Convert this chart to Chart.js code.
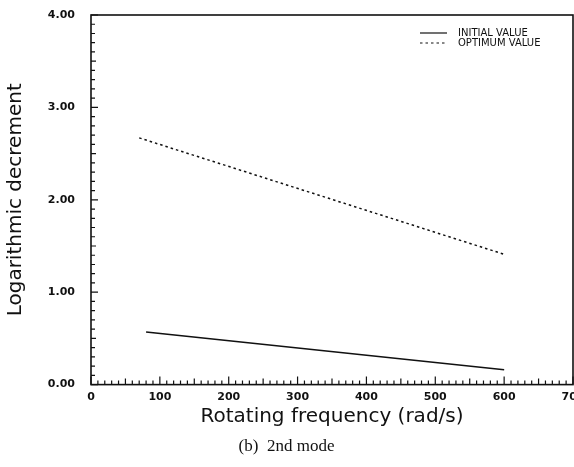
<!DOCTYPE html>
<html><head><meta charset="utf-8">
<script src="https://cdn.jsdelivr.net/npm/chart.js@4"></script>
<style>html,body{margin:0;padding:0;background:#fff}#wrap{width:574px;height:467px}</style>
</head><body><div id="wrap"><canvas id="c" width="574" height="467"></canvas></div>
<script>
const initialX = [80, 600];
const initialY = [0.57, 0.16];
const optimumX = [70, 600];
const optimumY = [2.67, 1.41];
const seriesLabels = ['INITIAL VALUE', 'OPTIMUM VALUE'];
const xTickLabels = [0, 100, 200, 300, 400, 500, 600, 700];
const yTickLabels = ['0.00', '1.00', '2.00', '3.00', '4.00'];

const toPts = (xs, ys) => xs.map((x, i) => ({x: x, y: ys[i]}));

const framePlugin = {
  id: 'frame',
  afterDatasetsDraw(chart) {
    const {ctx, chartArea: a, scales: {x, y}} = chart;
    ctx.save();
    ctx.strokeStyle = '#111';
    ctx.lineWidth = 1.6;
    ctx.strokeRect(a.left, a.top, a.right - a.left, a.bottom - a.top);
    ctx.lineWidth = 1.2;
    ctx.beginPath();
    for (let v = 0; v <= 700; v += 10) {
      const px = x.getPixelForValue(v);
      const len = v % 100 === 0 ? 8 : (v % 50 === 0 ? 6 : 4);
      ctx.moveTo(px, a.bottom); ctx.lineTo(px, a.bottom - len);
    }
    for (let k = 0; k <= 40; k++) {
      const py = y.getPixelForValue(k / 10);
      const len = k % 10 === 0 ? 7 : (k % 5 === 0 ? 5 : 4);
      ctx.moveTo(a.left, py); ctx.lineTo(a.left + len, py);
    }
    ctx.stroke();
    // legend
    const ds = chart.data.datasets;
    ctx.font = '10px "DejaVu Sans", sans-serif';
    ctx.fillStyle = '#111';
    ctx.textBaseline = 'middle';
    ds.forEach((d, i) => {
      const ly = 33 + i * 10;
      ctx.lineWidth = 1.2;
      ctx.setLineDash(d.borderDash || []);
      ctx.beginPath(); ctx.moveTo(420, ly); ctx.lineTo(447, ly); ctx.stroke();
      ctx.setLineDash([]);
      ctx.fillText(d.label, 458, ly);
    });
    ctx.restore();
  }
};

new Chart(document.getElementById('c'), {
  type: 'scatter',
  data: {
    datasets: [
      {label: seriesLabels[0], data: toPts(initialX, initialY), showLine: true, borderColor: '#111', borderWidth: 1.6, pointRadius: 0, borderDash: []},
      {label: seriesLabels[1], data: toPts(optimumX, optimumY), showLine: true, borderColor: '#111', borderWidth: 1.5, pointRadius: 0, borderDash: [2.5, 3]}
    ]
  },
  plugins: [framePlugin],
  options: {
    responsive: false,
    animation: false,
    layout: {padding: {top: 15, left: 0, right: 1, bottom: 0}},
    plugins: {
      legend: {display: false},
      tooltip: {enabled: false},
      title: {display: true, position: 'bottom', text: '(b)  2nd mode', color: '#111',
        font: {family: '"Liberation Serif", "DejaVu Serif", serif', size: 17, weight: 'normal'}, padding: {top: 8, bottom: 10}}
    },
    scales: {
      x: {
        type: 'linear', min: 0, max: 700,
        afterFit(s) { s.paddingRight = 0; s.paddingLeft = 0; s.height = 44; },
        grid: {display: false, drawTicks: false},
        border: {display: false},
        ticks: {stepSize: 100, padding: 6, color: '#111', autoSkip: false, maxRotation: 0,
          font: {family: '"DejaVu Sans", sans-serif', size: 11, weight: 'bold'},
          callback: (v) => xTickLabels.includes(v) ? String(v) : ''},
        title: {display: true, text: 'Rotating frequency (rad/s)', color: '#111',
          font: {family: '"DejaVu Sans", sans-serif', size: 20}, padding: {top: 0, bottom: 0}}
      },
      y: {
        type: 'linear', min: 0, max: 4,
        afterFit(s) { s.width = 91; s.paddingTop = 0; s.paddingBottom = 0; },
        grid: {display: false, drawTicks: false},
        border: {display: false},
        ticks: {stepSize: 1, padding: 16, color: '#111',
          font: {family: '"DejaVu Sans", sans-serif', size: 11, weight: 'bold'},
          callback: (v) => yTickLabels[Math.round(v)] || ''},
        title: {display: true, text: 'Logarithmic decrement', color: '#111',
          font: {family: '"DejaVu Sans", sans-serif', size: 20}, padding: {top: 4, bottom: 4}}
      }
    }
  }
});
</script></body></html>
